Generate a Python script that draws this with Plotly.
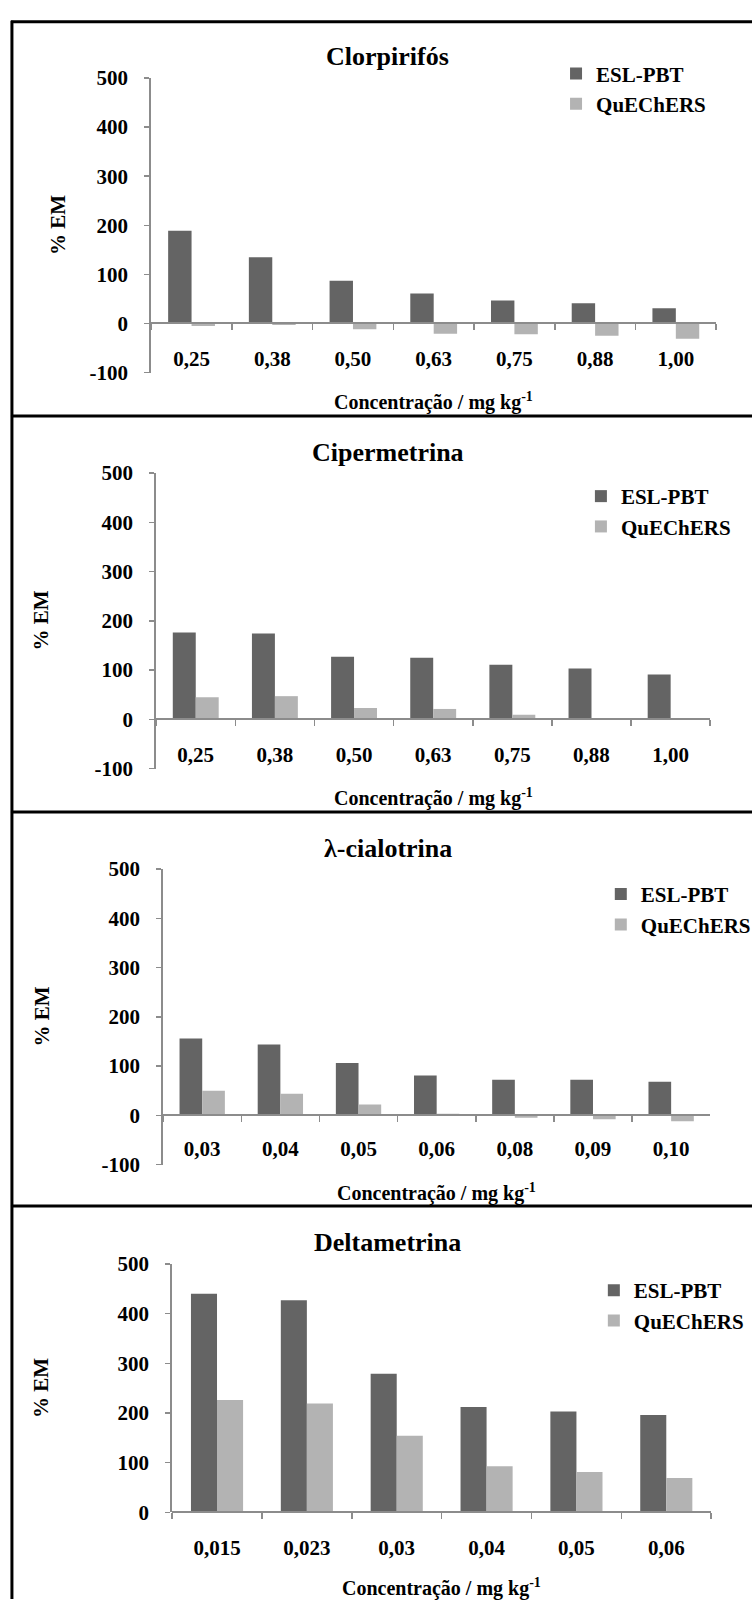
import plotly.graph_objects as go

# ---------------- data ----------------
conc_a = ["0,25", "0,38", "0,50", "0,63", "0,75", "0,88", "1,00"]
clor_esl = [189, 135, 87, 61, 47, 41, 31]
clor_que = [-5, -3, -12, -21, -22, -25, -31]

ciper_esl = [176, 174, 127, 125, 111, 103, 91]
ciper_que = [45, 47, 23, 21, 9, 0, 0]

conc_l = ["0,03", "0,04", "0,05", "0,06", "0,08", "0,09", "0,10"]
lamb_esl = [156, 144, 106, 81, 72, 72, 68]
lamb_que = [50, 44, 22, 3, -5, -8, -12]

conc_d = ["0,015", "0,023", "0,03", "0,04", "0,05", "0,06"]
delta_esl = [440, 427, 279, 212, 203, 196]
delta_que = [226, 219, 154, 93, 81, 69]

titles = ["Clorpirifós", "Cipermetrina", "λ-cialotrina", "Deltametrina"]
series_names = ["ESL-PBT", "QuEChERS"]
y_ticks = [-100, 0, 100, 200, 300, 400, 500]
y_tick_text = ["-100", "0", "100", "200", "300", "400", "500"]

# ---------------- style / layout ----------------
W, H = 756, 1611
FONT = "Liberation Serif, Times New Roman, serif"
DARK = "#646464"
LIGHT = "#b3b3b3"
AXC = "#8c8c8c"


def px(x):
    return x / W


def py(y):
    return 1 - y / H


panels = [
    dict(cats=conc_a, a=clor_esl, b=clor_que, x0=152, x1=720, ytop=67, ybot=366,
         yr=[-100, 500], title_y=45, xt_y=395, yt_x=59, leg=(559, 42), lab_off=16),
    dict(cats=conc_a, a=ciper_esl, b=ciper_que, x0=157, x1=714, ytop=468, ybot=768,
         yr=[-100, 500], title_y=447, xt_y=797, yt_x=41, leg=(584, 471), lab_off=16),
    dict(cats=conc_l, a=lamb_esl, b=lamb_que, x0=164, x1=714, ytop=870, ybot=1170,
         yr=[-100, 500], title_y=849, xt_y=1198, yt_x=42, leg=(604, 875), lab_off=14),
    dict(cats=conc_d, a=delta_esl, b=delta_que, x0=173, x1=715, ytop=1271, ybot=1523,
         yr=[0, 500], title_y=1249, xt_y=1599, yt_x=41, leg=(597, 1277), lab_off=16),
]

fig = go.Figure()
annotations = []
shapes = []
layout = dict(
    width=W, height=H, margin=dict(l=0, r=0, t=0, b=0),
    paper_bgcolor="white", plot_bgcolor="rgba(0,0,0,0)",
    bargap=0.42, bargroupgap=0, barmode="group",
    font=dict(family=FONT, color="black", size=21),
)

for i, p in enumerate(panels):
    n = i + 1
    xa = "x" if n == 1 else f"x{n}"
    ya = "y" if n == 1 else f"y{n}"
    lg = "legend" if n == 1 else f"legend{n}"
    for vals, name, col in ((p["a"], series_names[0], DARK), (p["b"], series_names[1], LIGHT)):
        fig.add_trace(go.Bar(x=p["cats"], y=vals, name=name, marker=dict(color=col, line=dict(width=0)),
                             xaxis=xa, yaxis=ya, legend=lg))

    ydom = [py(p["ybot"]), py(p["ytop"])]
    xdom = [px(p["x0"]), px(p["x1"])]
    yr = p["yr"]
    zero_pos = ydom[0] + (0 - yr[0]) / (yr[1] - yr[0]) * (ydom[1] - ydom[0])

    tv = [t for t in y_ticks if t >= yr[0]]
    tt = [s for t, s in zip(y_ticks, y_tick_text) if t >= yr[0]]

    xkey = "xaxis" if n == 1 else f"xaxis{n}"
    ykey = "yaxis" if n == 1 else f"yaxis{n}"
    layout[xkey] = dict(
        domain=xdom, anchor="free", position=zero_pos, type="category",
        showline=True, linecolor=AXC, linewidth=2, showgrid=False, zeroline=False,
        ticks="outside", tickson="boundaries", ticklen=6, tickcolor=AXC, tickwidth=1.5,
        tickfont=dict(family=FONT, size=21, weight="bold", color="black"),
        ticklabelstandoff=p["lab_off"], fixedrange=True,
    )
    layout[ykey] = dict(
        domain=ydom, anchor=xa, range=yr, tickmode="array", tickvals=tv, ticktext=tt,
        showline=True, linecolor=AXC, linewidth=2, showgrid=False, zeroline=False,
        ticks="outside", ticklen=5, tickcolor=AXC, tickwidth=1.5,
        tickfont=dict(family=FONT, size=21, weight="bold", color="black"),
        ticklabelstandoff=12, fixedrange=True,
    )
    layout[lg] = dict(
        x=px(p["leg"][0]), y=py(p["leg"][1]), xanchor="left", yanchor="top",
        bgcolor="rgba(0,0,0,0)", borderwidth=0, itemwidth=30, tracegroupgap=0,
        font=dict(family=FONT, size=21, weight="bold", color="black"),
    )
    # panel title
    annotations.append(dict(text=titles[i], x=px(390), y=py(p["title_y"]), xref="paper", yref="paper",
                            xanchor="center", yanchor="middle", showarrow=False,
                            font=dict(family=FONT, size=26, weight="bold", color="black")))
    # x-axis title
    annotations.append(dict(text="Concentração / mg kg<sup>-1</sup>", x=(xdom[0] + xdom[1]) / 2,
                            y=py(p["xt_y"]), xref="paper", yref="paper",
                            xanchor="center", yanchor="middle", showarrow=False,
                            font=dict(family=FONT, size=20, weight="bold", color="black")))
    # y-axis title
    annotations.append(dict(text="% EM", x=px(p["yt_x"]), y=(ydom[0] + ydom[1]) / 2,
                            xref="paper", yref="paper", textangle=-90,
                            xanchor="center", yanchor="middle", showarrow=False,
                            font=dict(family=FONT, size=21, weight="bold", color="black")))

# frame lines (decoration)
for yy in (10, 410, 812, 1212):
    shapes.append(dict(type="line", xref="paper", yref="paper", x0=px(11), x1=1, y0=py(yy), y1=py(yy),
                       line=dict(color="black", width=3)))
shapes.append(dict(type="line", xref="paper", yref="paper", x0=px(12), x1=px(12), y0=py(9), y1=0,
                   line=dict(color="black", width=3)))

layout["annotations"] = annotations
layout["shapes"] = shapes
fig.update_layout(**layout)

fig.write_html(
    "out.html",
    config={"displayModeBar": False, "staticPlot": True},
    post_script="document.body.style.margin='0px';document.body.style.overflow='hidden';",
)
